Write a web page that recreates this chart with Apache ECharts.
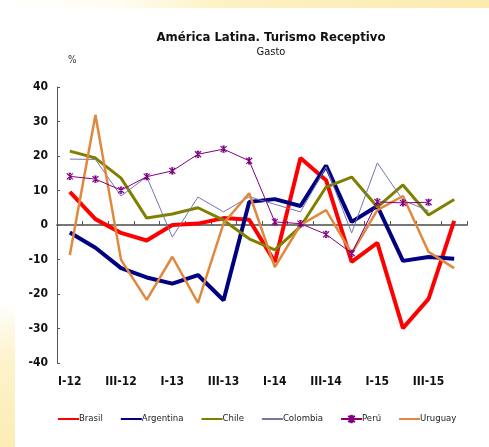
<!DOCTYPE html>
<html lang="es">
<head>
<meta charset="UTF-8">
<title>Turismo Receptivo</title>
<script src="https://cdn.jsdelivr.net/npm/echarts@6/dist/echarts.min.js"></script>
<style>
    * { margin: 0; padding: 0; }
    body { background: #fff; }
    .wrap { position: relative; width: 489px; height: 447px; overflow: hidden; background: #fff; }
    .glowTop { position: absolute; left: 0; top: 0; width: 489px; height: 8px;
        background: linear-gradient(90deg, #ffffff 0%, #fffcf0 25%, #fdf2c4 45%, #fcebb0 100%); }
    .glowLeft { position: absolute; left: 0; top: 300px; width: 15px; height: 147px;
        background: linear-gradient(180deg, #ffffff 0%, #fdf3cc 40%, #fcedb6 100%); }
    #chart { position: absolute; left: 0; top: 0; width: 489px; height: 447px; }
</style>
</head>
<body>
<div class="wrap">
    <div class="glowTop"></div>
    <div class="glowLeft"></div>
    <div id="chart"></div>
</div>
<script>
    // trimestres
    var quarters = ['I-12', 'II-12', 'III-12', 'IV-12', 'I-13', 'II-13', 'III-13', 'IV-13',
        'I-14', 'II-14', 'III-14', 'IV-14', 'I-15', 'II-15', 'III-15', 'IV-15'];

    // variación % del gasto
    var brasil = [9.6, 1.7, -2.3, -4.5, 0, 0.4, 2, 1.5, -10.7, 19.4, 13, -10.7, -5.2, -29.9, -21.4, 1.2];
    var argentina = [-2.2, -6.6, -12.5, -15.2, -17, -14.5, -21.8, 6.7, 7.5, 5.5, 17.2, 0.9, 5.5, -10.4, -9.3, -9.8];
    var chile = [21.4, 19.4, 13.6, 2, 3.2, 5, 1.4, -4, -7.2, -0.5, 11, 13.9, 5.2, 11.6, 2.9, 7.4];
    var colombia = [19.1, 19, 8.4, 14, -3.5, 8.1, 3.8, 8.2, 6, 3.8, 16.8, -2.3, 18, 7.2, 4.1, null];
    var peru = [14.1, 13.3, 10.1, 14, 15.7, 20.5, 22, 18.6, 0.9, 0.4, -2.7, -8.2, 6.7, 6.4, 6.6, null];
    var uruguay = [-8.7, 31.9, -10.1, -21.7, -9.2, -22.6, 0.5, 9.2, -12.2, 0, 4.3, -8.2, 4.3, 8.4, -7.8, -12.5];

    var legendNames = ['Brasil', 'Argentina', 'Chile', 'Colombia', 'Perú', 'Uruguay'];

    var font = 'Tahoma, "DejaVu Sans Condensed", "DejaVu Sans", sans-serif';
    var starMark = 'path://M0,0 L10,10 M10,0 L0,10 M5,0 L5,10 M3,0 L7,0 M3,10 L7,10';

    function lineSeries(name, data, color, width) {
        return {
            name: name,
            type: 'line',
            data: data,
            symbol: 'circle',
            showSymbol: false,
            lineStyle: { color: color, width: width },
            itemStyle: { color: color },
            z: 2
        };
    }

    var series = [
        lineSeries('Brasil', brasil, '#ff0000', 4),
        lineSeries('Argentina', argentina, '#000080', 4),
        lineSeries('Chile', chile, '#808000', 3),
        lineSeries('Colombia', colombia, '#7575b0', 1),
        {
            name: 'Perú',
            type: 'line',
            data: peru,
            symbol: starMark,
            symbolSize: 6,
            showSymbol: true,
            lineStyle: { color: '#800080', width: 1 },
            itemStyle: { color: '#800080', borderColor: '#800080', borderWidth: 1.2 },
            z: 3
        },
        lineSeries('Uruguay', uruguay, '#e0883e', 2.5)
    ];

    // en la leyenda sólo Perú lleva marcador
    var legendData = legendNames.map(function (n) {
        if (n === 'Perú') return { name: n };
        return { name: n, itemStyle: { opacity: 0 } };
    });

    var myChart = echarts.init(document.getElementById('chart'));

    var option = {
        backgroundColor: 'transparent',
        animation: false,
        textStyle: { fontFamily: font },
        title: [{
            text: 'América Latina. Turismo Receptivo',
            subtext: 'Gasto',
            left: 266,
            textAlign: 'center',
            top: 26,
            itemGap: 3,
            textStyle: { fontSize: 13, fontWeight: 'bold', color: '#111', fontFamily: font },
            subtextStyle: { fontSize: 11, color: '#111', fontFamily: font }
        }, {
            text: '%',
            left: 63,
            top: 50,
            textStyle: { fontSize: 10, fontWeight: 'normal', color: '#333', fontFamily: font }
        }],
        legend: {
            bottom: 23,
            left: 57,
            padding: 0,
            itemWidth: 21,
            itemHeight: 8,
            itemGap: 17,
            textStyle: { fontSize: 9.5, color: '#222', fontFamily: font, padding: [0, 0, 0, -5] },
            data: legendData
        },
        grid: { left: 57, right: 22, top: 87, bottom: 84 },
        xAxis: [{
            type: 'category',
            data: quarters,
            boundaryGap: true,
            axisLine: { onZero: true, lineStyle: { color: '#777', width: 2 } },
            axisTick: { show: true, inside: true, length: 4, interval: 0, lineStyle: { color: '#555', width: 1 } },
            axisLabel: { show: false },
            splitLine: { show: false }
        }, {
            type: 'category',
            data: quarters,
            position: 'bottom',
            boundaryGap: true,
            axisLine: { show: false, onZero: false },
            axisTick: { show: false },
            axisLabel: { interval: 1, fontSize: 12, fontWeight: 'bold', color: '#111', margin: 13, fontFamily: font },
            splitLine: { show: false }
        }],
        yAxis: {
            type: 'value',
            min: -40,
            max: 40,
            interval: 10,
            axisLine: { show: true, lineStyle: { color: '#555', width: 1 } },
            axisTick: { show: true, inside: true, length: 3, lineStyle: { color: '#555' } },
            axisLabel: { fontSize: 12, fontWeight: 'bold', color: '#111', margin: 9, fontFamily: font },
            splitLine: { show: false }
        },
        series: series
    };

    myChart.setOption(option);
</script>
</body>
</html>
